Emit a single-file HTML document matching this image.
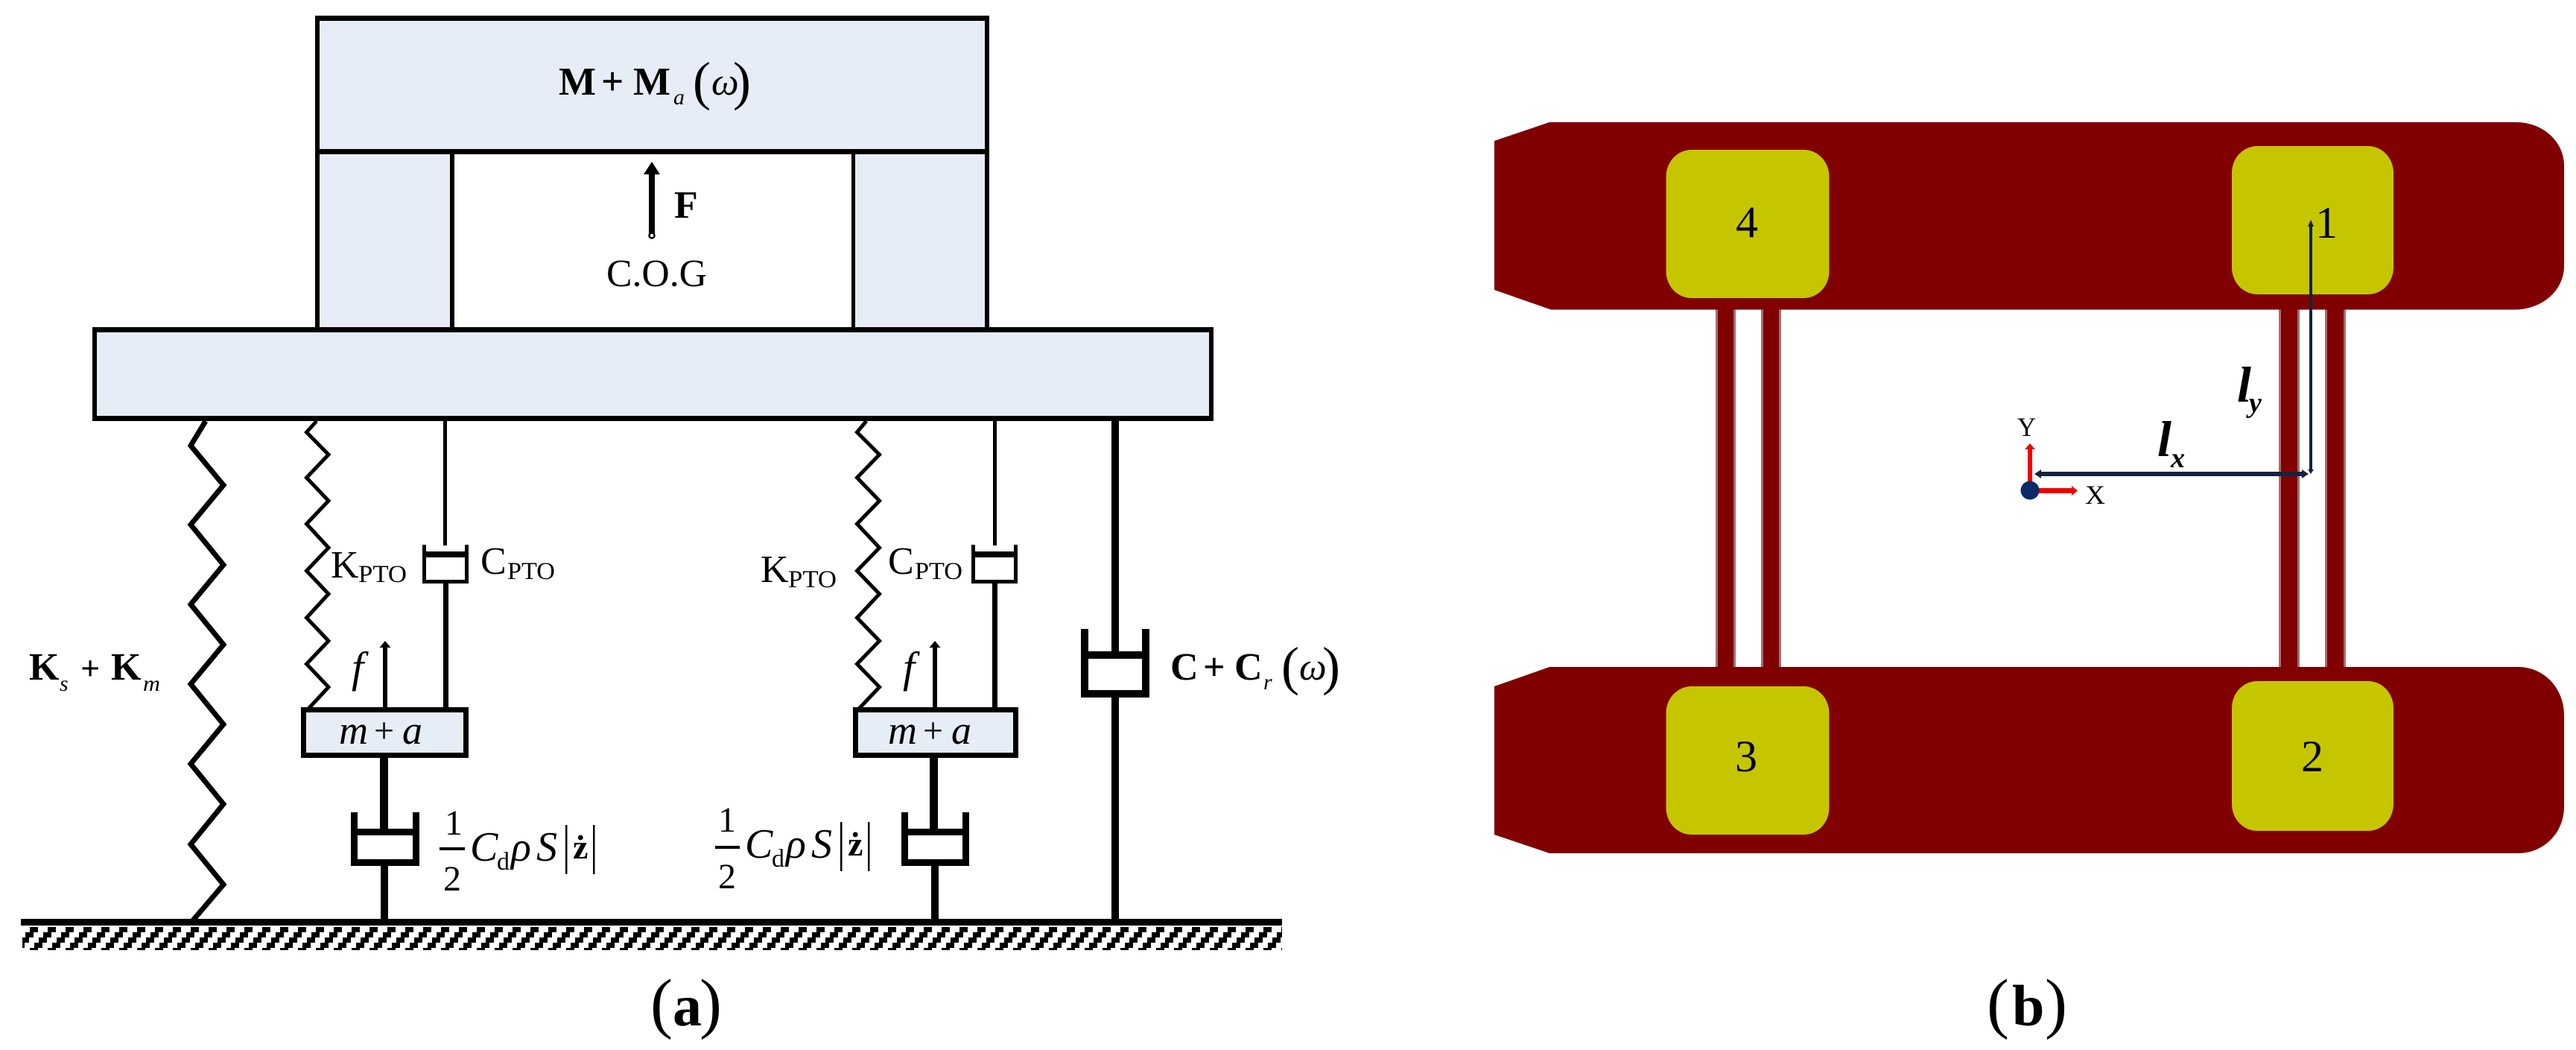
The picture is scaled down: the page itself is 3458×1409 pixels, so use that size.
<!DOCTYPE html>
<html>
<head>
<meta charset="utf-8">
<style>
html,body{margin:0;padding:0;background:#fff;width:3458px;height:1409px;overflow:hidden}
svg{display:block}
text{font-family:"Liberation Serif","DejaVu Serif",serif;fill:#000}
.b{font-weight:bold}
.i{font-style:italic}
.bi{font-weight:bold;font-style:italic}
</style>
</head>
<body>
<svg xmlns="http://www.w3.org/2000/svg" width="3458" height="1409" viewBox="0 0 3458 1409">
<defs>
<pattern id="h" patternUnits="userSpaceOnUse" x="0" y="1244" width="24" height="28">
<rect x="16" y="0" width="11" height="7"/>
<rect x="-8" y="0" width="11" height="7"/>
<rect x="10" y="7" width="11" height="7"/>
<rect x="4" y="14" width="11" height="7"/>
<rect x="22" y="21" width="11" height="7"/>
<rect x="-2" y="21" width="11" height="7"/>
</pattern>
</defs>
<rect width="3458" height="1409" fill="#fff"/>

<!-- top structure -->
<rect x="427" y="25" width="896" height="178" fill="#E6EDF7"/>
<rect x="427" y="203" width="180" height="239" fill="#E6EDF7"/>
<rect x="1145" y="203" width="178" height="239" fill="#E6EDF7"/>
<rect x="127" y="442" width="1498" height="120" fill="#E6EDF7"/>
<g fill="#000">
<rect x="423" y="21" width="905" height="7"/>
<rect x="423" y="200" width="905" height="7"/>
<rect x="423" y="21" width="6" height="422"/>
<rect x="1322" y="21" width="6" height="422"/>
<rect x="604" y="203" width="6" height="240"/>
<rect x="1143" y="203" width="5" height="240"/>
<rect x="124" y="439" width="1504" height="7"/>
<rect x="124" y="558" width="1504" height="7"/>
<rect x="124" y="439" width="6" height="126"/>
<rect x="1623" y="439" width="6" height="126"/>
</g>
<!-- F arrow -->
<rect x="871" y="232" width="8" height="84" fill="#000"/>
<polygon points="875,217 864,234 886,234" fill="#000"/>
<circle cx="875" cy="316" r="3.500" fill="#fff" stroke="#000" stroke-width="2.500"/>
<text x="905" y="292" class="b" font-size="52">F</text>
<text x="814" y="384" font-size="52" textLength="135" lengthAdjust="spacingAndGlyphs">C.O.G</text>
<text x="750" y="127" class="b" font-size="53">M</text>
<text x="807" y="127" class="b" font-size="53">+</text>
<text x="850" y="127" class="b" font-size="53">M</text>
<text x="904" y="140" class="i" font-size="30">a</text>
<text x="930" y="133" font-size="72">(</text>
<text x="955" y="127" class="i" font-size="52">ω</text>
<text x="984" y="133" font-size="72">)</text>

<!-- big spring -->
<polyline points="276,565 256,598 300,651 256,704 300,758 256,811 300,865 256,918 300,972 256,1025 300,1079 256,1133 300,1187 259,1235" fill="none" stroke="#000" stroke-width="7"/>
<text x="39" y="912" class="b" font-size="52">K</text>
<text x="80" y="927" class="i" font-size="30">s</text>
<text x="108" y="912" class="b" font-size="46">+</text>
<text x="149" y="912" class="b" font-size="52">K</text>
<text x="192" y="927" class="i" font-size="30" textLength="23" lengthAdjust="spacingAndGlyphs">m</text>

<!-- left PTO spring -->
<polyline points="425,565 411.500,580 441,610 411.500,641 441,672 411.500,703 441,735 411.500,766 441,797 411.500,829 441,860 411.500,891 441,922 414,951" fill="none" stroke="#000" stroke-width="5"/>
<rect x="595" y="562" width="5" height="170" fill="#000"/>
<g fill="#000">
<rect x="567" y="731" width="5" height="52"/>
<rect x="624" y="731" width="5" height="52"/>
<rect x="567" y="740" width="62" height="8"/>
<rect x="567" y="778" width="62" height="5"/>
<rect x="595" y="783" width="7" height="167"/>
</g>
<text x="444" y="775" font-size="52">K</text>
<text x="481" y="781" font-size="33" textLength="65" lengthAdjust="spacingAndGlyphs">PTO</text>
<text x="645" y="770" font-size="52">C</text>
<text x="681" y="777" font-size="33" textLength="64" lengthAdjust="spacingAndGlyphs">PTO</text>
<!-- f arrow -->
<rect x="514" y="868" width="6" height="82" fill="#000"/>
<polygon points="517,860 509.500,869 524.500,869" fill="#000"/>
<text x="472" y="915" class="i" font-size="58">f</text>
<!-- mass -->
<rect x="407.500" y="952.500" width="218" height="61" fill="#E6EDF7" stroke="#000" stroke-width="7"/>
<text x="455" y="998" class="i" font-size="54">m</text>
<text x="502" y="996" font-size="48">+</text>
<text x="540" y="998" class="i" font-size="54">a</text>
<!-- lower damper -->
<g fill="#000">
<rect x="510" y="1017" width="11" height="96"/>
<rect x="471" y="1090" width="9" height="72"/>
<rect x="554" y="1090" width="9" height="72"/>
<rect x="471" y="1112" width="92" height="9"/>
<rect x="471" y="1153" width="92" height="9"/>
<rect x="511" y="1162" width="10" height="72"/>
</g>
<text x="597" y="1120" font-size="48">1</text>
<rect x="590" y="1137" width="34" height="4" fill="#000"/>
<text x="595" y="1195" font-size="48">2</text>
<text x="631" y="1155" class="i" font-size="56">C</text>
<text x="667" y="1167" font-size="34">d</text>
<text x="686" y="1155" class="i" font-size="56">ρ</text>
<text x="720" y="1155" class="i" font-size="56">S</text>
<rect x="759" y="1107" width="2.500" height="66" fill="#000"/>
<text x="769" y="1152" font-size="46" class="b">ż</text>
<rect x="796" y="1107" width="2.500" height="66" fill="#000"/>

<!-- right PTO spring -->
<polyline points="1163,565 1150.500,580 1180.500,610 1150.500,641 1180.500,672 1150.500,703 1180.500,735 1150.500,766 1180.500,797 1150.500,829 1180.500,860 1150.500,891 1180.500,922 1153,951" fill="none" stroke="#000" stroke-width="5"/>
<rect x="1333" y="562" width="5" height="170" fill="#000"/>
<g fill="#000">
<rect x="1304" y="731" width="5" height="52"/>
<rect x="1361" y="731" width="5" height="52"/>
<rect x="1304" y="740" width="62" height="8"/>
<rect x="1304" y="778" width="62" height="5"/>
<rect x="1332" y="783" width="7" height="167"/>
</g>
<text x="1021" y="781" font-size="52">K</text>
<text x="1058" y="788" font-size="33" textLength="65" lengthAdjust="spacingAndGlyphs">PTO</text>
<text x="1192" y="770" font-size="52">C</text>
<text x="1228" y="777" font-size="33" textLength="64" lengthAdjust="spacingAndGlyphs">PTO</text>
<rect x="1252" y="868" width="6" height="82" fill="#000"/>
<polygon points="1255,860 1247.500,869 1262.500,869" fill="#000"/>
<text x="1212" y="915" class="i" font-size="58">f</text>
<rect x="1148.500" y="952.500" width="215" height="61" fill="#E6EDF7" stroke="#000" stroke-width="7"/>
<text x="1192" y="998" class="i" font-size="54">m</text>
<text x="1239" y="996" font-size="48">+</text>
<text x="1277" y="998" class="i" font-size="54">a</text>
<g fill="#000">
<rect x="1248" y="1017" width="11" height="96"/>
<rect x="1210" y="1090" width="9" height="72"/>
<rect x="1292" y="1090" width="9" height="72"/>
<rect x="1210" y="1112" width="91" height="9"/>
<rect x="1210" y="1153" width="91" height="9"/>
<rect x="1250" y="1162" width="10" height="72"/>
</g>
<text x="964" y="1116" font-size="48">1</text>
<rect x="960" y="1135" width="33" height="4" fill="#000"/>
<text x="964" y="1192" font-size="48">2</text>
<text x="1000" y="1151" class="i" font-size="56">C</text>
<text x="1036" y="1163" font-size="34">d</text>
<text x="1055" y="1151" class="i" font-size="56">ρ</text>
<text x="1089" y="1151" class="i" font-size="56">S</text>
<rect x="1128" y="1103" width="2.500" height="66" fill="#000"/>
<text x="1138" y="1148" font-size="46" class="b">ż</text>
<rect x="1165" y="1103" width="2.500" height="66" fill="#000"/>

<!-- right big damper -->
<g fill="#000">
<rect x="1492" y="562" width="10" height="314"/>
<rect x="1451" y="844" width="10" height="92"/>
<rect x="1533" y="844" width="10" height="92"/>
<rect x="1451" y="874" width="92" height="10"/>
<rect x="1451" y="926" width="92" height="10"/>
<rect x="1492" y="936" width="10" height="298"/>
</g>
<text x="1571" y="912" class="b" font-size="52">C</text>
<text x="1615" y="912" class="b" font-size="52">+</text>
<text x="1657" y="912" class="b" font-size="52">C</text>
<text x="1696" y="925" class="i" font-size="30">r</text>
<text x="1720" y="918" font-size="72">(</text>
<text x="1744" y="912" class="i" font-size="52">ω</text>
<text x="1775" y="918" font-size="72">)</text>

<!-- ground -->
<rect x="28" y="1233" width="1693" height="9" fill="#000"/>
<rect x="30" y="1244" width="1691" height="31" fill="url(#h)"/>

<!-- caption a -->
<text x="873" y="1376" font-size="90">(</text>
<text x="903" y="1376" class="b" font-size="78">a</text>
<text x="939" y="1376" font-size="90">)</text>

<!-- ===== panel b ===== -->
<!-- struts -->
<g fill="#a07070">
<rect x="2303" y="412" width="27" height="486"/>
<rect x="2364" y="412" width="27" height="486"/>
<rect x="3059" y="412" width="28" height="486"/>
<rect x="3121" y="412" width="28" height="486"/>
</g>
<g fill="#800000">
<rect x="2306" y="412" width="21" height="486"/>
<rect x="2367" y="412" width="21" height="486"/>
<rect x="3062" y="412" width="22" height="486"/>
<rect x="3124" y="412" width="22" height="486"/>
</g>
<!-- hulls -->
<path d="M2006,189 L2080,164 L3378,164 A64,58 0 0 1 3442,222 L3442,357 A66,58 0 0 1 3376,415.500 L2082,415.500 L2006,389 Z" fill="#800000"/>
<path d="M2006,921 L2080,895 L3381,895 A61,64 0 0 1 3442,959 L3442,1083 A61,62 0 0 1 3381,1145 L2080,1145 L2006,1120 Z" fill="#800000"/>
<!-- pads -->
<g fill="#C6C600">
<rect x="2236.500" y="201" width="219" height="199" rx="34" ry="36"/>
<rect x="2996" y="196" width="217" height="199" rx="34" ry="36"/>
<rect x="2236.500" y="921" width="219" height="199" rx="34" ry="36"/>
<rect x="2996" y="914" width="217" height="201" rx="34" ry="36"/>
</g>
<text x="2330" y="318" font-size="60">4</text>
<text x="3108" y="319" font-size="60">1</text>
<text x="2329" y="1035" font-size="60">3</text>
<text x="3089" y="1035" font-size="60">2</text>

<!-- dimension lines -->
<rect x="3100" y="302" width="4" height="330" fill="#14213a"/>
<polygon points="3102,295 3098,304 3106,304" fill="#14213a"/>
<polygon points="3102,636 3098,630 3106,630" fill="#14213a"/>
<rect x="2738" y="633" width="354" height="6" fill="#14233f"/>
<polygon points="2731,636 2740,630 2740,642" fill="#14233f"/>
<polygon points="3099,636 3090,630 3090,642" fill="#14233f"/>
<!-- axes -->
<rect x="2722" y="602" width="6" height="46" fill="#f00000"/>
<polygon points="2725,595 2718,603 2732,603" fill="#f00000"/>
<rect x="2735" y="655" width="47" height="7" fill="#f00000"/>
<polygon points="2789,658.500 2781,652 2781,665" fill="#f00000"/>
<circle cx="2725" cy="658" r="12.500" fill="#0C2A66"/>
<text x="2708" y="585" font-size="36" textLength="25" lengthAdjust="spacingAndGlyphs" fill="#222">Y</text>
<text x="2799" y="676" font-size="36" textLength="27" lengthAdjust="spacingAndGlyphs" fill="#222">X</text>
<text x="2896" y="612" class="bi" font-size="68">l</text>
<text x="2914" y="627" class="bi" font-size="38">x</text>
<text x="3003" y="539" class="bi" font-size="68">l</text>
<text x="3019" y="553" class="bi" font-size="38">y</text>

<!-- caption b -->
<text x="2667" y="1376" font-size="90">(</text>
<text x="2701" y="1376" class="b" font-size="78">b</text>
<text x="2745" y="1376" font-size="90">)</text>
</svg>
</body>
</html>
